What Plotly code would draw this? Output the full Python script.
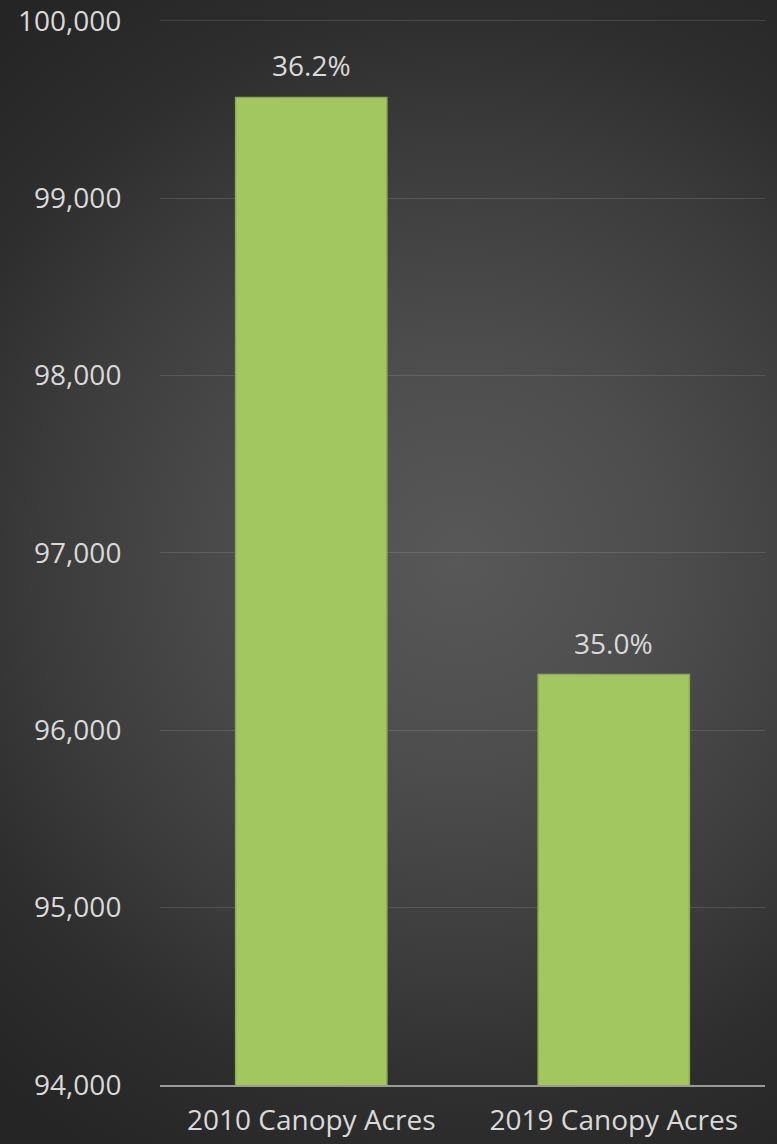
import plotly.graph_objects as go

# ---- data ----
categories = ["2010 Canopy Acres", "2019 Canopy Acres"]
canopy_acres = [99568, 96314]
canopy_pct_labels = ["36.2%", "35.0%"]
y_tick_values = [94000, 95000, 96000, 97000, 98000, 99000, 100000]

# ---- style ----
W, H = 777, 1144
FONT = "Open Sans"
TEXT_COLOR = "#d9d9d9"
BAR_COLOR = "#A3C760"
BAR_EDGE = "#8BAE4B"

plot_left, plot_right = 160, 765
plot_top, plot_bottom = 19.0, 1085

# background radial gradient (elliptical) centred to the right of middle
cx, cy = 460 / W, 1 - 560 / H
hx, hy = 700 / W, 700 / H
bg_x = [cx - hx, cx + hx, cx + hx, cx - hx, cx - hx]
bg_y = [cy - hy, cy - hy, cy + hy, cy + hy, cy - hy]

fig = go.Figure()

fig.add_trace(go.Scatter(
    x=bg_x, y=bg_y, xaxis="x", yaxis="y",
    mode="none", fill="toself",
    fillgradient=dict(
        type="radial",
        colorscale=[[0, "#585858"], [0.3, "#4d4d4d"], [0.6, "#3b3b3b"],
                    [0.78, "#2e2e2e"], [1, "#252525"]],
    ),
    hoverinfo="skip", showlegend=False,
))

fig.add_trace(go.Bar(
    x=categories, y=canopy_acres, xaxis="x2", yaxis="y2",
    marker=dict(color=BAR_COLOR, line=dict(color=BAR_EDGE, width=1.5)),
    hoverinfo="skip", showlegend=False,
))

annotations = []
for c, v, t in zip(categories, canopy_acres, canopy_pct_labels):
    annotations.append(dict(
        x=c, y=v, xref="x2", yref="y2", text=t, showarrow=False,
        yanchor="bottom", yshift=11,
        font=dict(family=FONT, size=28, color=TEXT_COLOR),
    ))

fig.update_layout(
    width=W, height=H,
    margin=dict(l=0, r=0, t=0, b=0, pad=0),
    paper_bgcolor="#262626",
    plot_bgcolor="rgba(0,0,0,0)",
    bargap=0.5,
    showlegend=False,
    font=dict(family=FONT, size=28, color=TEXT_COLOR),
    xaxis=dict(domain=[0, 1], range=[0, 1], visible=False, fixedrange=True,
               automargin=False),
    yaxis=dict(domain=[0, 1], range=[0, 1], visible=False, fixedrange=True,
               automargin=False),
    xaxis2=dict(
        domain=[plot_left / W, plot_right / W], anchor="y2",
        type="category", range=[-0.5, 1.5], automargin=False,
        showgrid=False, zeroline=False,
        showline=True, linecolor="#9a9a9a", linewidth=2,
        ticks="outside", ticklen=9, tickcolor="rgba(0,0,0,0)",
        tickfont=dict(family=FONT, size=28, color=TEXT_COLOR),
    ),
    yaxis2=dict(
        domain=[1 - plot_bottom / H, 1 - plot_top / H], anchor="x2",
        range=[94000, 100010], automargin=False,
        tickvals=y_tick_values, tickformat=",",
        showgrid=True, gridcolor="rgba(255,255,255,0.12)", gridwidth=1,
        zeroline=False, showline=False,
        ticks="outside", ticklen=32, tickcolor="rgba(0,0,0,0)",
        tickfont=dict(family=FONT, size=28, color=TEXT_COLOR),
    ),
    annotations=annotations,
)

fig.write_html(
    "out.html",
    config={"displayModeBar": False},
    post_script="document.body.style.margin='0';document.body.style.background='#262626';",
)
